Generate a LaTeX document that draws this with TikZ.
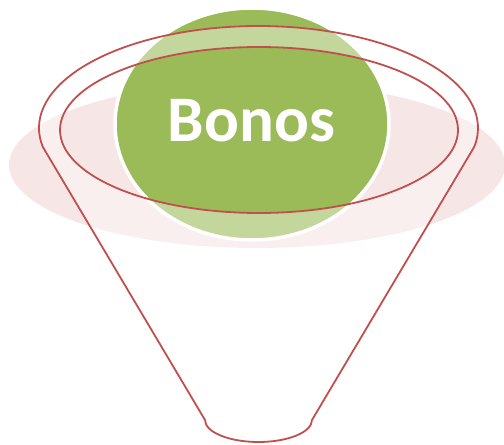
\documentclass[tikz,border=0pt]{standalone}
\usepackage{fontspec}
\setmainfont{Carlito}
\usetikzlibrary{calc}
\definecolor{funnelred}{HTML}{C0504D}
\definecolor{bonogreen}{HTML}{9BBB59}
\tikzset{
  rimline/.style={draw=funnelred, line width=1.8pt},
  shadowfill/.style={fill=funnelred, fill opacity=0.14},
  ballfill/.style={fill=bonogreen, draw=white, line width=3.5pt},
  glassfill/.style={fill=white, fill opacity=0.4, even odd rule},
  labeltext/.style={text=white, font=\bfseries\fontsize{65}{70}\selectfont, inner sep=0pt}
}
\begin{document}
\begin{tikzpicture}[x=1pt,y=1pt]
\useasboundingbox (0,0) rectangle (504,445);
% shadow
\path[shadowfill] (257,280) ellipse [x radius=248, y radius=83];
% ball
\path[ballfill] (252,321) ellipse [x radius=137, y radius=116];
\node[labeltext, anchor=base] (bonos) at (251.5,303) {Bonos};
% funnel coordinates
\coordinate (lc) at ($(258.5,317)+(190.7:219.5 and 102)$);
\coordinate (br) at (312,25);
% glass fill with opening
\path[glassfill] (lc) arc[start angle=190.7, end angle=-10.7, x radius=219.5, y radius=102]
   -- (br) arc[start angle=0, end angle=-180, x radius=53.5, y radius=22] -- cycle
   (259,315) ellipse [x radius=199, y radius=83];
% outlines
\draw[rimline, line join=round] (lc) arc[start angle=190.7, end angle=-10.7, x radius=219.5, y radius=102]
   -- (br) arc[start angle=0, end angle=-180, x radius=53.5, y radius=22] -- cycle;
\draw[rimline] (259,315) ellipse [x radius=199, y radius=83];
\end{tikzpicture}
\end{document}
